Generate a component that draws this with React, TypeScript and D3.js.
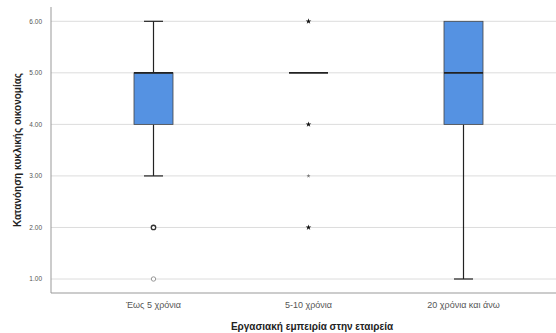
import React from "react";
import * as d3 from "d3";

const categories = ["Έως 5 χρόνια", "5-10 χρόνια", "20 χρόνια και άνω"];
const whiskerLow = [3, 5, 1];
const q1 = [4, 5, 4];
const medians = [5, 5, 5];
const q3 = [5, 5, 6];
const whiskerHigh = [6, 5, 6];
// outliers: [categoryIndex, value, kind, strong]
const outlierCat = [0, 0, 1, 1, 1, 1];
const outlierVal = [2, 1, 6, 4, 3, 2];
const outlierKind = ["circle", "circle", "star", "star", "star", "star"];
const outlierStrong = [true, false, true, true, false, true];
const yTicks = [1, 2, 3, 4, 5, 6];
const yTitle = "Κατανόηση κυκλικής οικονομίας";
const xTitle = "Εργασιακή εμπειρία στην εταιρεία";

export default function App() {
  const W = 556, H = 333;
  const left = 51, right = 556, top = 7, bottom = 293;
  const x = d3.scalePoint<string>().domain(categories).range([153.5, 463.5]);
  const y = d3.scaleLinear().domain([1, 6]).range([279, 21.3]);
  const boxW = 39, capW = 19;
  const font = "Arial, 'Liberation Sans', sans-serif";
  const star = d3.symbol().type(d3.symbolStar);

  return (
    <svg width={W} height={H} style={{ position: "absolute", left: 0, top: 0 }} fontFamily={font}>
      <rect width={W} height={H} fill="#fff" />
      {yTicks.map((t) => (
        <g key={t}>
          <line x1={left} x2={right} y1={y(t)} y2={y(t)} stroke="#dcdcdc" strokeWidth={1} />
          <text x={42} y={y(t)} dy="0.35em" textAnchor="end" fontSize={6.5} fill="#555">
            {t.toFixed(2)}
          </text>
        </g>
      ))}
      <line x1={left} x2={left} y1={top} y2={bottom} stroke="#999" strokeWidth={1} />
      <line x1={left} x2={right} y1={bottom} y2={bottom} stroke="#999" strokeWidth={1} />
      {categories.map((c, i) => {
        const cx = x(c)!;
        return (
          <g key={c}>
            {whiskerLow[i] < q1[i] && (
              <>
                <line x1={cx} x2={cx} y1={y(whiskerLow[i])} y2={y(q1[i])} stroke="#222" strokeWidth={1.2} />
                <line x1={cx - capW / 2} x2={cx + capW / 2} y1={y(whiskerLow[i])} y2={y(whiskerLow[i])} stroke="#222" strokeWidth={1.2} />
              </>
            )}
            {whiskerHigh[i] > q3[i] && (
              <>
                <line x1={cx} x2={cx} y1={y(q3[i])} y2={y(whiskerHigh[i])} stroke="#222" strokeWidth={1.2} />
                <line x1={cx - capW / 2} x2={cx + capW / 2} y1={y(whiskerHigh[i])} y2={y(whiskerHigh[i])} stroke="#222" strokeWidth={1.2} />
              </>
            )}
            {q3[i] > q1[i] && (
              <rect x={cx - boxW / 2} y={y(q3[i])} width={boxW} height={y(q1[i]) - y(q3[i])} fill="#5592e2" stroke="#444" strokeWidth={0.8} />
            )}
            <line x1={cx - boxW / 2} x2={cx + boxW / 2} y1={y(medians[i])} y2={y(medians[i])} stroke="#222" strokeWidth={1.8} />
            <text x={cx} y={305} dy="0.35em" textAnchor="middle" fontSize={9} fill="#555">
              {c}
            </text>
          </g>
        );
      })}
      {outlierVal.map((v, k) => {
        const cx = x(categories[outlierCat[k]])!;
        const cy = y(v);
        const strong = outlierStrong[k];
        if (outlierKind[k] === "circle") {
          return (
            <circle key={k} cx={cx} cy={cy} r={2.2} fill="#fff" stroke={strong ? "#333" : "#999"} strokeWidth={strong ? 1.3 : 1} />
          );
        }
        return (
          <path key={k} d={star.size(strong ? 10 : 5)()!} transform={`translate(${cx},${cy})`} fill={strong ? "#111" : "#777"} />
        );
      })}
      <text x={312} y={326} dy="0.35em" textAnchor="middle" fontSize={10} fontWeight="bold" fill="#222">
        {xTitle}
      </text>
      <text transform={`translate(17,150) rotate(-90)`} dy="0.35em" textAnchor="middle" fontSize={10} fontWeight="bold" fill="#222">
        {yTitle}
      </text>
    </svg>
  );
}
